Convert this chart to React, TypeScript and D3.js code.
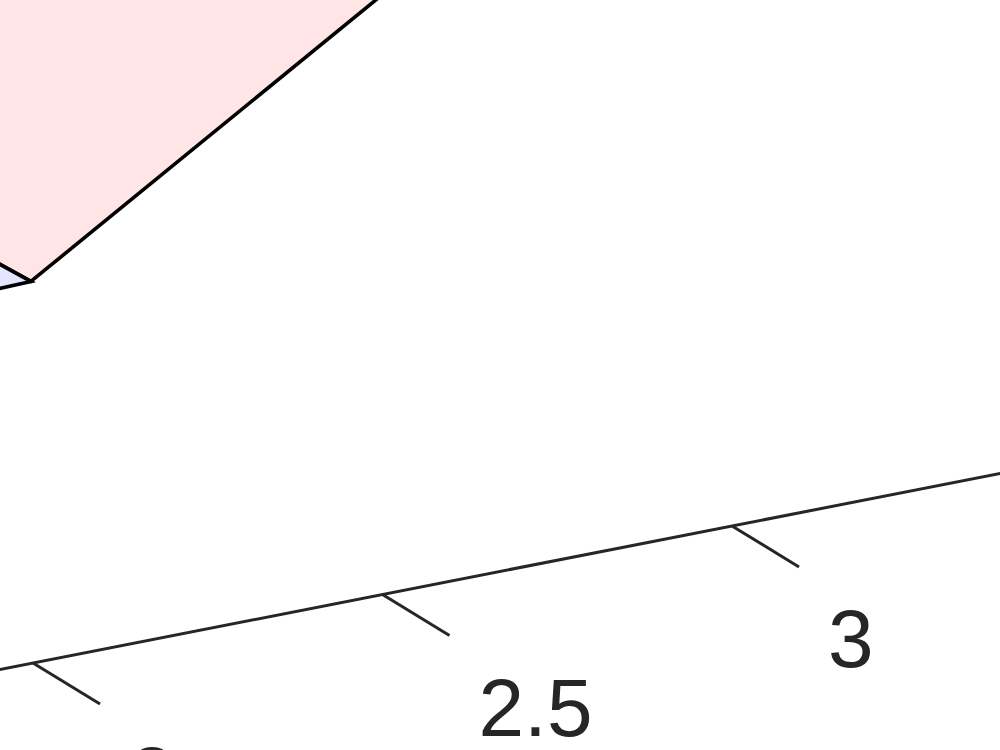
import React from "react";
import { scaleLinear, line } from "d3";

// x-axis tick values and their labels
const xTicks = [2, 2.5, 3];
const xTickLabels = ["2", "2.5", "3"];

// faces as [x, z] pairs (the view is a zoomed corner of a 3-D plot)
const pinkFace: [number, number][] = [
	[1.997, 3.82],
	[2.56, 6.26],
	[1.89, 7.18],
	[1.89, 4.38]
];
const blueFace: [number, number][] = [
	[1.997, 3.82],
	[1.89, 4.38],
	[1.89, 3.8]
];
const axisExtent = [1.9, 3.5];

const width = 1000;
const height = 750;

export default function App() {
	// projection: x runs along the slanted axis, z goes straight up
	const sx = scaleLinear().domain([2, 3]).range([33, 732]);
	const axisY = scaleLinear().domain([2, 3]).range([663, 526]);
	const zPx = scaleLinear().domain([0, 1]).range([0, 100]);

	const project = (d: [number, number]): [number, number] => [sx(d[0]), axisY(d[0]) - zPx(d[1])];

	const facePath = line<[number, number]>()
		.x((d) => project(d)[0])
		.y((d) => project(d)[1]);

	const tickDx = 67;
	const tickDy = 41;

	return (
		<svg
			width={width}
			height={height}
			style={{ position: "fixed", left: 0, top: 0, background: "#ffffff" }}
		>
			<path
				d={facePath(pinkFace) + "Z"}
				fill="#ffe5e5"
				stroke="#000000"
				strokeWidth={3.6}
				strokeLinejoin="miter"
			/>
			<path
				d={facePath(blueFace) + "Z"}
				fill="#e5e5ff"
				stroke="#000000"
				strokeWidth={3.6}
				strokeLinejoin="miter"
			/>

			<line
				x1={sx(axisExtent[0])}
				y1={axisY(axisExtent[0])}
				x2={sx(axisExtent[1])}
				y2={axisY(axisExtent[1])}
				stroke="#262626"
				strokeWidth={3}
			/>
			{xTicks.map((t, i) => {
				const x0 = sx(t);
				const y0 = axisY(t);
				return (
					<g key={t}>
						<line
							x1={x0}
							y1={y0}
							x2={x0 + tickDx}
							y2={y0 + tickDy}
							stroke="#262626"
							strokeWidth={3}
						/>
						<text
							x={x0 + 96}
							y={y0 + 141}
							fontFamily="'Liberation Sans', Arial, Helvetica, sans-serif"
							fontSize={82}
							fill="#262626"
						>
							{xTickLabels[i]}
						</text>
					</g>
				);
			})}
		</svg>
	);
}
